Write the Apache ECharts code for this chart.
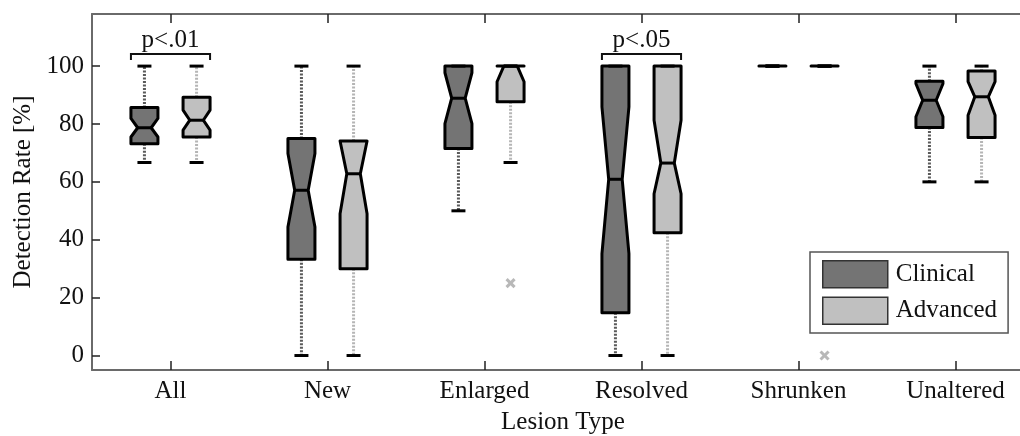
<!DOCTYPE html>
<html>
<head>
<meta charset="utf-8">
<script src="https://cdn.jsdelivr.net/npm/echarts@6.0.0/dist/echarts.min.js"></script>
<style>
html,body{margin:0;padding:0;background:#fff;}
#chart{width:1020px;height:436px;}
</style>
</head>
<body>
<div id="chart"></div>
<script>
// ---- data ----
const categories = ['All', 'New', 'Enlarged', 'Resolved', 'Shrunken', 'Unaltered'];

// Clinical (dark)
const clinicalLowerWhisker = [66.7, 0, 50, 0, 100, 60];
const clinicalQ1           = [73.2, 33.3, 71.5, 14.8, 100, 78.8];
const clinicalNotchLow     = [75.5, 44.4, 80.1, 35.2, 100, 82.5];
const clinicalMedian       = [78.7, 57.1, 88.9, 60.9, 100, 88.2];
const clinicalNotchHigh    = [81.9, 69.8, 97.7, 85.9, 100, 93.9];
const clinicalQ3           = [85.7, 75, 100, 100, 100, 94.8];
const clinicalUpperWhisker = [100, 100, 100, 100, 100, 100];
const clinicalOutliers     = [];

// Advanced (light)
const advancedLowerWhisker = [66.7, 0, 66.7, 0, 100, 60];
const advancedQ1           = [75.5, 30, 87.7, 42.4, 100, 75.3];
const advancedNotchLow     = [77.9, 49, 94.6, 55.9, 100, 83];
const advancedMedian       = [81.3, 62.8, 100, 66.5, 100, 89.4];
const advancedNotchHigh    = [84.8, 76.6, 100, 81.3, 100, 94.6];
const advancedQ3           = [89.2, 74.1, 100, 100, 100, 98.3];
const advancedUpperWhisker = [100, 100, 100, 100, 100, 100];
const advancedOutliers     = [['Enlarged', 25], ['Shrunken', 0]];

const yTickValues = [0, 20, 40, 60, 80, 100];
const sigCategories = ['All', 'Resolved'];
const sigLabels = ['p<.01', 'p<.05'];

// ---- styling ----
const FONT = 'Liberation Serif';
const CLIN_FILL = '#747474';
const ADV_FILL = '#c0c0c0';
const GROUP_OFFSET = 0.166;   // fraction of category band
const BOX_HALF = 0.086;       // fraction of category band
const NOTCH_HALF = 0.043;

function buildBoxData(lw, q1, nl, md, nh, q3, uw) {
  return categories.map((c, i) => [i, lw[i], q1[i], nl[i], md[i], nh[i], q3[i], uw[i]]);
}

function boxRenderer(offset, fill, whiskerColor) {
  return function (params, api) {
    const cat = api.value(0);
    const lo = api.value(1), q1 = api.value(2), nLo = api.value(3), med = api.value(4),
          nHi = api.value(5), q3 = api.value(6), hi = api.value(7);
    const band = api.size([1, 0])[0];
    const cx = api.coord([cat, med])[0] + offset * band;
    const y = v => api.coord([cat, v])[1];
    const hw = BOX_HALF * band, nw = NOTCH_HALF * band;
    const capHalf = 7;
    const nHiC = Math.min(nHi, q3), nLoC = Math.max(nLo, q1);
    const pts = [
      [cx - hw, y(q3)], [cx + hw, y(q3)], [cx + hw, y(nHiC)], [cx + nw, y(med)],
      [cx + hw, y(nLoC)], [cx + hw, y(q1)], [cx - hw, y(q1)], [cx - hw, y(nLoC)],
      [cx - nw, y(med)], [cx - hw, y(nHiC)]
    ];
    const dash = { stroke: whiskerColor, lineWidth: 3, lineDash: [2, 1.5] };
    return {
      type: 'group',
      children: [
        { type: 'line', shape: { x1: cx, y1: y(q3), x2: cx, y2: y(hi) }, style: dash, z2: 1 },
        { type: 'line', shape: { x1: cx, y1: y(q1), x2: cx, y2: y(lo) }, style: dash, z2: 1 },
        { type: 'polygon', shape: { points: pts }, style: { fill: fill, stroke: '#000', lineWidth: 3, lineJoin: 'round' }, z2: 2 },
        { type: 'line', shape: { x1: cx - nw, y1: y(med), x2: cx + nw, y2: y(med) }, style: { stroke: '#000', lineWidth: 3 }, z2: 3 },
        { type: 'line', shape: { x1: cx - capHalf, y1: y(hi), x2: cx + capHalf, y2: y(hi) }, style: { stroke: '#000', lineWidth: 3 }, z2: 4 },
        { type: 'line', shape: { x1: cx - capHalf, y1: y(lo), x2: cx + capHalf, y2: y(lo) }, style: { stroke: '#000', lineWidth: 3 }, z2: 4 }
      ]
    };
  };
}

function outlierRenderer(offset) {
  return function (params, api) {
    const band = api.size([1, 0])[0];
    const p = api.coord([api.value(0), api.value(1)]);
    const cx = p[0] + offset * band, cy = p[1], s = 4;
    const st = { stroke: '#b8b8b8', lineWidth: 3 };
    return {
      type: 'group',
      children: [
        { type: 'line', shape: { x1: cx - s, y1: cy - s, x2: cx + s, y2: cy + s }, style: st },
        { type: 'line', shape: { x1: cx - s, y1: cy + s, x2: cx + s, y2: cy - s }, style: st }
      ]
    };
  };
}

function sigRenderer(params, api) {
  const band = api.size([1, 0])[0];
  const p = api.coord([api.value(0), 100]);
  const x0 = p[0] - (GROUP_OFFSET + BOX_HALF) * band;
  const x1 = p[0] + (GROUP_OFFSET + BOX_HALF) * band;
  const yb = p[1] - 12;
  return {
    type: 'group',
    children: [
      { type: 'polyline', shape: { points: [[x0, yb + 6], [x0, yb], [x1, yb], [x1, yb + 6]] },
        style: { stroke: '#111', lineWidth: 2, fill: null } },
      { type: 'text', x: p[0], y: yb - 1,
        style: { text: sigLabels[api.value(1)], fontFamily: FONT, fontSize: 25, fill: '#111',
                 align: 'center', verticalAlign: 'bottom' } }
    ]
  };
}

const axisLineStyle = { color: '#6a6a6a', width: 2 };
const tickStyle = { color: '#222', width: 1.5 };

const option = {
  backgroundColor: '#ffffff',
  animation: false,
  grid: { left: 92, top: 14, width: 942, height: 356, containLabel: false, outerBoundsMode: 'none' },
  legend: {
    left: 810, top: 252, orient: 'vertical',
    data: ['Clinical', 'Advanced'],
    backgroundColor: '#fff', borderColor: '#555', borderWidth: 1.5,
    padding: [8, 11, 8, 12], itemGap: 8, itemWidth: 65, itemHeight: 27,
    icon: 'rect',
    itemStyle: { borderColor: '#333', borderWidth: 1.5 },
    textStyle: { fontFamily: FONT, fontSize: 25, color: '#111', padding: [0, 0, 0, 3] },
    selectedMode: false
  },
  xAxis: [
    {
      type: 'category', data: categories, position: 'bottom', boundaryGap: true,
      axisLine: { show: true, onZero: false, lineStyle: axisLineStyle },
      axisTick: { show: true, inside: true, alignWithLabel: true, length: 9, lineStyle: tickStyle },
      axisLabel: { fontFamily: FONT, fontSize: 25, color: '#111', margin: 9 },
      splitLine: { show: false },
      name: 'Lesion Type', nameLocation: 'middle', nameGap: 40,
      nameTextStyle: { fontFamily: FONT, fontSize: 25, color: '#111' }
    },
    {
      type: 'category', data: categories, position: 'top', boundaryGap: true,
      axisLine: { show: true, onZero: false, lineStyle: axisLineStyle },
      axisTick: { show: true, inside: true, alignWithLabel: true, length: 9, lineStyle: tickStyle },
      axisLabel: { show: false },
      splitLine: { show: false }
    }
  ],
  yAxis: {
    type: 'value', min: -5, max: 118,
    axisLine: { show: true, onZero: false, lineStyle: axisLineStyle },
    axisTick: { show: true, inside: true, length: 8, lineStyle: tickStyle, customValues: yTickValues },
    axisLabel: { fontFamily: FONT, fontSize: 25, color: '#111', margin: 8, customValues: yTickValues },
    splitLine: { show: false },
    name: 'Detection Rate [%]', nameLocation: 'middle', nameGap: 56,
    nameTextStyle: { fontFamily: FONT, fontSize: 25, color: '#111' }
  },
  series: [
    {
      name: 'Clinical', type: 'custom', xAxisIndex: 0,
      itemStyle: { color: CLIN_FILL },
      encode: { x: 0, y: [1, 2, 3, 4, 5, 6, 7] },
      renderItem: boxRenderer(-GROUP_OFFSET, CLIN_FILL, '#5a5a5a'),
      data: buildBoxData(clinicalLowerWhisker, clinicalQ1, clinicalNotchLow, clinicalMedian,
                         clinicalNotchHigh, clinicalQ3, clinicalUpperWhisker),
      z: 3
    },
    {
      name: 'Advanced', type: 'custom', xAxisIndex: 0,
      itemStyle: { color: ADV_FILL },
      encode: { x: 0, y: [1, 2, 3, 4, 5, 6, 7] },
      renderItem: boxRenderer(GROUP_OFFSET, ADV_FILL, '#b5b5b5'),
      data: buildBoxData(advancedLowerWhisker, advancedQ1, advancedNotchLow, advancedMedian,
                         advancedNotchHigh, advancedQ3, advancedUpperWhisker),
      z: 3
    },
    {
      name: 'Clinical outliers', type: 'custom', xAxisIndex: 0,
      encode: { x: 0, y: 1 },
      renderItem: outlierRenderer(-GROUP_OFFSET),
      data: clinicalOutliers.map(o => [categories.indexOf(o[0]), o[1]]),
      z: 4
    },
    {
      name: 'Advanced outliers', type: 'custom', xAxisIndex: 0,
      encode: { x: 0, y: 1 },
      renderItem: outlierRenderer(GROUP_OFFSET),
      data: advancedOutliers.map(o => [categories.indexOf(o[0]), o[1]]),
      z: 4
    },
    {
      name: 'Significance', type: 'custom', xAxisIndex: 0,
      encode: { x: 0 },
      renderItem: sigRenderer,
      data: sigCategories.map((c, i) => [categories.indexOf(c), i]),
      z: 5
    }
  ]
};

const chart = echarts.init(document.getElementById('chart'), null, { renderer: 'canvas' });
chart.setOption(option);
</script>
</body>
</html>
